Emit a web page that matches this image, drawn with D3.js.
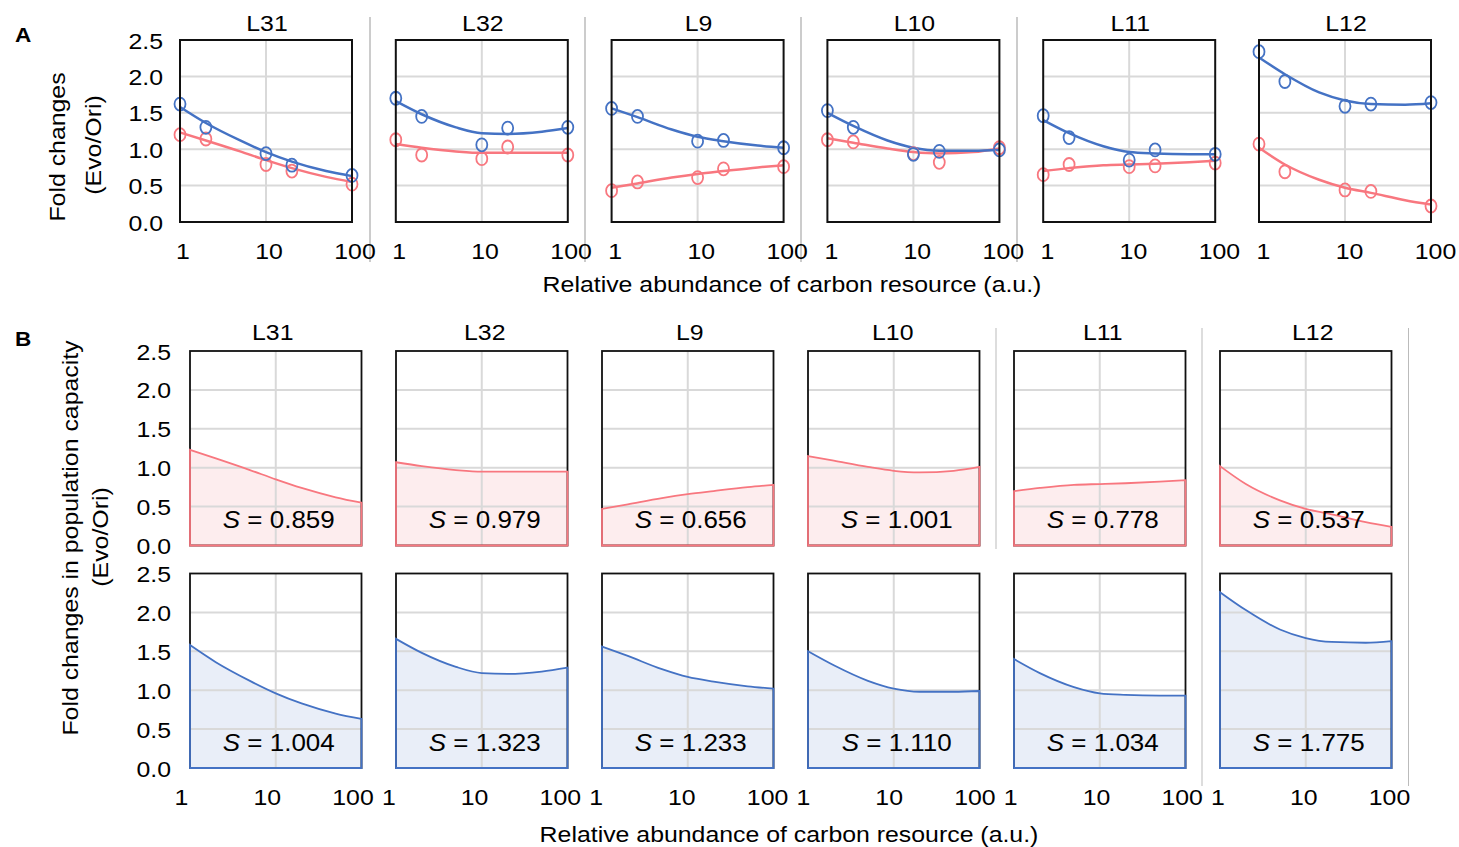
<!DOCTYPE html>
<html>
<head>
<meta charset="utf-8">
<script src="https://cdn.jsdelivr.net/npm/d3@7"></script>
<style>
  body { margin: 0; background: #fff; }
  svg text { font-family: "Liberation Sans", Arial, sans-serif; fill: #000; }
</style>
</head>
<body>
<svg id="chart" width="1459" height="847"></svg>
<script>
// strains shown in each column
const strains = ["L31", "L32", "L9", "L10", "L11", "L12"];

// measured points (x = relative carbon abundance)
const xMeasured = [1, 2, 10, 20, 100];
const blueMeasured = [
    [1.62, 1.30, 0.94, 0.78, 0.64],
    [1.70, 1.45, 1.06, 1.29, 1.30],
    [1.56, 1.45, 1.11, 1.12, 1.02],
    [1.53, 1.30, 0.93, 0.97, 0.99],
    [1.46, 1.16, 0.85, 0.99, 0.93],
    [2.34, 1.93, 1.59, 1.62, 1.64]
];
const redMeasured = [
    [1.20, 1.14, 0.79, 0.70, 0.52],
    [1.13, 0.92, 0.87, 1.03, 0.92],
    [0.43, 0.55, 0.61, 0.73, 0.76],
    [1.13, 1.10, 0.94, 0.82, 1.02],
    [0.65, 0.79, 0.76, 0.77, 0.81],
    [1.07, 0.69, 0.44, 0.42, 0.22]
];

// trend line values
const xFit = [1, 2, 5, 10, 20, 50, 100];
const blueFit = [
    [1.58, 1.36, 1.12, 0.96, 0.83, 0.70, 0.63],
    [1.66, 1.48, 1.30, 1.22, 1.21, 1.24, 1.29],
    [1.56, 1.44, 1.27, 1.17, 1.11, 1.05, 1.02],
    [1.50, 1.32, 1.12, 1.02, 0.98, 0.98, 0.99],
    [1.40, 1.22, 1.04, 0.96, 0.94, 0.93, 0.93],
    [2.26, 2.03, 1.78, 1.67, 1.62, 1.61, 1.63]
];
const redFit = [
    [1.23, 1.12, 0.97, 0.85, 0.74, 0.62, 0.55],
    [1.07, 1.02, 0.97, 0.95, 0.95, 0.95, 0.95],
    [0.47, 0.53, 0.61, 0.66, 0.70, 0.75, 0.78],
    [1.15, 1.09, 1.01, 0.96, 0.94, 0.96, 1.01],
    [0.70, 0.74, 0.78, 0.79, 0.80, 0.82, 0.84],
    [1.02, 0.79, 0.58, 0.47, 0.40, 0.30, 0.24]
];

// area values printed in panel B
const redS = ["0.859", "0.979", "0.656", "1.001", "0.778", "0.537"];
const blueS = ["1.004", "1.323", "1.233", "1.110", "1.034", "1.775"];

const yTicks = [0, 0.5, 1.0, 1.5, 2.0, 2.5];
const xTicks = [1, 10, 100];
const xTitle = "Relative abundance of carbon resource (a.u.)";

const blue = "#4472C4", red = "#F8777F";
const blueFill = "#E9EEF8", redFill = "#FDEDEE";
const gridColor = "#D9D9D9";
const FS = 22, STRETCH = 1.13;

const svg = d3.select("#chart");

// text is a bit wider than plain Arial in the figure, so stretch it along its run
function label(parent, x, y, str, anchor, rot, size) {
    return parent.append("text")
        .attr("transform", `translate(${x},${y}) rotate(${rot || 0}) scale(${STRETCH},1)`)
        .attr("text-anchor", anchor || "middle")
        .attr("font-size", size || FS)
        .text(str);
}

function drawGrid(g, x, y, w, h) {
    g.append("g").selectAll("line")
        .data(yTicks.slice(1, -1))
        .enter().append("line")
        .attr("x1", 0).attr("x2", w)
        .attr("y1", d => y(d)).attr("y2", d => y(d))
        .attr("stroke", gridColor).attr("stroke-width", 2);
    g.append("line")
        .attr("x1", x(10)).attr("x2", x(10))
        .attr("y1", 0).attr("y2", h)
        .attr("stroke", gridColor).attr("stroke-width", 2);
}

function xLabels(g, x, h, dy, dx) {
    xTicks.forEach(d => label(g, x(d) + dx, h + dy, d));
}

function yLabels(y, top, right) {
    yTicks.forEach(d => label(svg, right, top + y(d) + 8.5, d.toFixed(1), "end"));
}

// ---------- panel A ----------
const aTop = 40, aH = 182, aW = 172, aStep = 215.8, aLeft = 180;
const xA = d3.scaleLog().domain([1, 100]).range([0, aW]);
const yA = d3.scaleLinear().domain([0, 2.5]).range([aH, 0]);

label(svg, 15, 42, "A", "start", 0, 20).attr("font-weight", "bold");

// separators between columns
[370, 585, 801, 1017].forEach(sx => {
    svg.append("line").attr("x1", sx).attr("x2", sx)
        .attr("y1", 17).attr("y2", 262)
        .attr("stroke", "#999").attr("stroke-width", 1);
});

strains.forEach((name, i) => {
    const g = svg.append("g")
        .attr("transform", `translate(${aLeft + i * aStep},${aTop})`);

    drawGrid(g, xA, yA, aW, aH);

    const line = d3.line()
        .x((d, j) => xA(xFit[j]))
        .y(d => yA(d))
        .curve(d3.curveMonotoneX);

    g.append("path").attr("d", line(redFit[i]))
        .attr("fill", "none").attr("stroke", red).attr("stroke-width", 2.5);
    g.append("path").attr("d", line(blueFit[i]))
        .attr("fill", "none").attr("stroke", blue).attr("stroke-width", 2.5);

    g.selectAll("ellipse.r")
        .data(redMeasured[i])
        .enter().append("ellipse")
        .attr("cx", (d, j) => xA(xMeasured[j]))
        .attr("cy", d => yA(d))
        .attr("rx", 5.5).attr("ry", 6.5)
        .attr("fill", "none").attr("stroke", red).attr("stroke-width", 1.8);
    g.selectAll("ellipse.b")
        .data(blueMeasured[i])
        .enter().append("ellipse")
        .attr("cx", (d, j) => xA(xMeasured[j]))
        .attr("cy", d => yA(d))
        .attr("rx", 5.5).attr("ry", 6.5)
        .attr("fill", "none").attr("stroke", blue).attr("stroke-width", 1.8);

    g.append("rect").attr("width", aW).attr("height", aH)
        .attr("fill", "none").attr("stroke", "#111").attr("stroke-width", 2);

    label(g, aW / 2 + 1, -9, name);
    xLabels(g, xA, aH, 37, 3 + i * 0.3);
});

yLabels(yA, aTop, 163);

label(svg, 65, 147, "Fold changes", "middle", -90);
label(svg, 101, 145, "(Evo/Ori)", "middle", -90);
label(svg, 792, 292, xTitle);

// ---------- panel B ----------
const bW = 171.5, bH = 194.5, bStep = 206, bLeft = 190;
const bTops = [351, 573.5];
const titleShiftB = [-3, 3, 2, -1, 3, 7];
const xB = d3.scaleLog().domain([1, 100]).range([0, bW]);
const yB = d3.scaleLinear().domain([0, 2.5]).range([bH, 0]);

label(svg, 15, 346, "B", "start", 0, 20).attr("font-weight", "bold");

svg.append("line").attr("x1", 996).attr("x2", 996)
    .attr("y1", 328).attr("y2", 549).attr("stroke", "#bbb");
[1202, 1408.5].forEach(sx => {
    svg.append("line").attr("x1", sx).attr("x2", sx)
        .attr("y1", 328).attr("y2", 786).attr("stroke", "#bbb");
});

const rows = [
    { fits: redFit, stroke: red, fill: redFill, s: redS },
    { fits: blueFit, stroke: blue, fill: blueFill, s: blueS }
];

rows.forEach((row, r) => {
    strains.forEach((name, i) => {
        const g = svg.append("g")
            .attr("transform", `translate(${bLeft + i * bStep},${bTops[r]})`);

        const area = d3.area()
            .x((d, j) => xB(xFit[j]))
            .y0(bH)
            .y1(d => yB(d))
            .curve(d3.curveMonotoneX);

        g.append("path").attr("d", area(row.fits[i])).attr("fill", row.fill);

        drawGrid(g, xB, yB, bW, bH);

        g.append("rect").attr("width", bW).attr("height", bH)
            .attr("fill", "none").attr("stroke", "#111").attr("stroke-width", 1.8);

        g.append("path").attr("d", area(row.fits[i]))
            .attr("fill", "none").attr("stroke", row.stroke).attr("stroke-width", 1.8);

        const st = label(g, bW / 2 + 3, bH - 17.5, "", "middle", 0, 23);
        st.append("tspan").attr("font-style", "italic").text("S");
        st.append("tspan").text(" = " + row.s[i]);

        if (r === 0) {
            label(g, bW / 2 + titleShiftB[i], -11, name);
        } else {
            xLabels(g, xB, bH, 37, -8.5 + i * 1.3);
        }
    });
    yLabels(yB, bTops[r], 171);
});

label(svg, 78, 538, "Fold changes in population capacity", "middle", -90);
label(svg, 108, 537, "(Evo/Ori)", "middle", -90);
label(svg, 789, 842, xTitle);
</script>
</body>
</html>
